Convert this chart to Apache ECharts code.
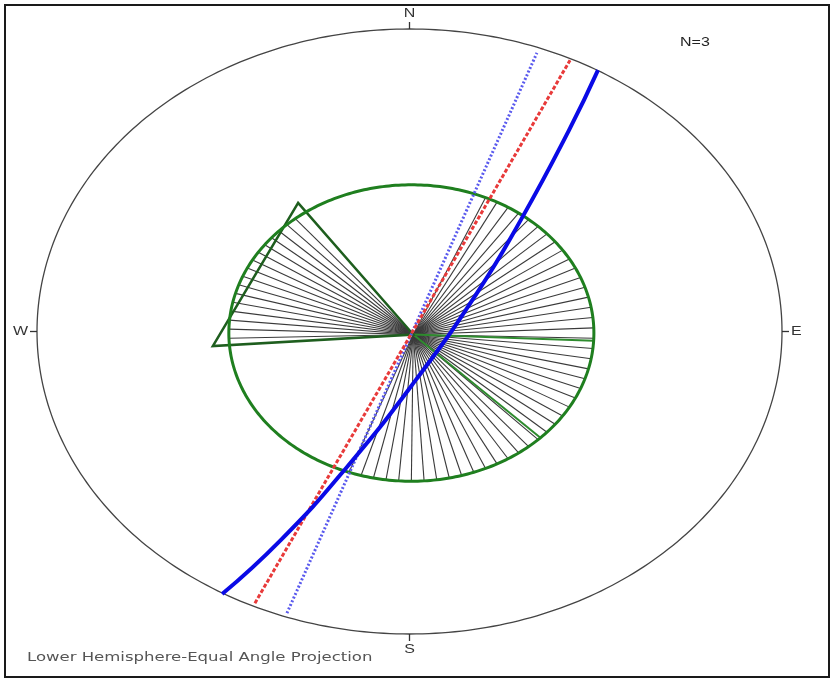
<!DOCTYPE html>
<html><head><meta charset="utf-8">
<script src="https://cdn.jsdelivr.net/npm/echarts@6/dist/echarts.min.js"></script>
<style>html,body{margin:0;padding:0;background:#fff}#c{width:836px;height:682px}</style>
</head><body><div id="c"></div>
<script>
// ---- Data (stereonet unit coordinates: x = east, y = north, primitive circle radius = 1) ----
const cardinalLabels = ['N', 'E', 'S', 'W'];
const cardinalPoints = [[0, 1], [1, 0], [0, -1], [-1, 0]];
const primitiveRadius = 1;
const coneCenter = [0.005, -0.005];
const coneRadius = 0.49;
const fanCenter = [0.01, -0.01];
const fanRightAzimuths = [24, 28, 32, 36, 40, 44, 48, 52, 56, 60, 64, 68, 72, 76, 80, 84, 88, 92, 96, 100, 104, 108, 112, 116, 120, 124, 128, 132, 136, 140, 144, 148, 152, 156, 160, 164, 168, 172, 176, 180, 184, 188, 192, 196, 200];
const fanLeftAzimuths = [268, 271.5, 275, 278.5, 282, 285.5, 289, 292.5, 296, 299.5, 303, 306.5, 310, 313.5, 317, 320.5];
const greenRayAzimuths = [93, 135];
const wedgeVertices = [[-0.299, 0.425], [-0.528, -0.048]];
const greatCircleSolid = [[-0.503, -0.868], [-0.345, -0.689], [-0.170, -0.451], [0.017, -0.160], [0.181, 0.127], [0.299, 0.369], [0.428, 0.665], [0.506, 0.864]];
const greatCircleDashed = [[-0.415, -0.898], [-0.067, -0.160], [0.431, 0.897]];
const greatCircleDotted = [[-0.329, -0.931], [-0.050, -0.160], [0.342, 0.921]];
const countLabel = 'N=3';
const footerLabel = 'Lower Hemisphere-Equal Angle Projection';

// ---- Chart ----
const TEXT_STRETCH = 1.23; // the reference picture is stretched horizontally
const chart = echarts.init(document.getElementById('c'), null, {renderer: 'canvas'});

function circleSeries(center, radius, color, width, z) {
  return {
    type: 'custom', coordinateSystem: 'cartesian2d', clip: false, z: z, silent: true,
    data: [[center[0], center[1], radius]],
    encode: {x: 0, y: 1},
    renderItem: function (params, api) {
      const cx = api.value(0), cy = api.value(1), r = api.value(2);
      const pts = [];
      for (let i = 0; i <= 360; i += 1) {
        const a = i * Math.PI / 180;
        pts.push(api.coord([cx + r * Math.sin(a), cy + r * Math.cos(a)]));
      }
      return {type: 'polyline', shape: {points: pts}, style: {stroke: color, lineWidth: width, fill: null}};
    }
  };
}

function raySeries(azimuths, color, width, z) {
  return {
    type: 'custom', coordinateSystem: 'cartesian2d', clip: false, z: z, silent: true,
    data: azimuths.map(a => [a]),
    encode: {x: 0},
    renderItem: function (params, api) {
      const a = api.value(0) * Math.PI / 180;
      const p0 = api.coord(fanCenter);
      const p1 = api.coord([coneCenter[0] + coneRadius * Math.sin(a), coneCenter[1] + coneRadius * Math.cos(a)]);
      return {type: 'line', shape: {x1: p0[0], y1: p0[1], x2: p1[0], y2: p1[1]}, style: {stroke: color, lineWidth: width}};
    }
  };
}

const option = {
  animation: false,
  backgroundColor: '#ffffff',
  grid: {left: 37, right: 54, top: 29, bottom: 48, containLabel: false},
  xAxis: {type: 'value', min: -1, max: 1, show: false},
  yAxis: {type: 'value', min: -1, max: 1, show: false},
  graphic: [
    {type: 'rect', shape: {x: 5, y: 5, width: 824, height: 672}, style: {fill: null, stroke: '#1a1a1a', lineWidth: 2}, z: 100},
    {type: 'text', x: 680, y: 42, scaleX: TEXT_STRETCH, style: {text: countLabel, font: '13px "Liberation Sans", Arial, sans-serif', fill: '#222', textVerticalAlign: 'middle'}},
    {type: 'text', x: 27, y: 658, scaleX: 1.27, style: {text: footerLabel, font: '13px "DejaVu Sans", sans-serif', fill: '#555', textVerticalAlign: 'middle'}}
  ],
  series: [
    circleSeries([0, 0], primitiveRadius, '#444', 1.3, 2),
    {
      type: 'custom', coordinateSystem: 'cartesian2d', clip: false, z: 3, silent: true,
      data: cardinalPoints.map((p, i) => [p[0], p[1], i]),
      encode: {x: 0, y: 1},
      renderItem: function (params, api) {
        const x = api.value(0), y = api.value(1);
        const p = api.coord([x, y]);
        const dx = x, dy = -y;
        const L = 7;
        const label = cardinalLabels[api.value(2)];
        const tx = p[0] + dx * (L + 2), ty = p[1] + dy * (L + 2);
        return {type: 'group', children: [
          {type: 'line', shape: {x1: p[0], y1: p[1], x2: p[0] + dx * L, y2: p[1] + dy * L}, style: {stroke: '#333', lineWidth: 1.3}},
          {type: 'text', x: tx, y: ty, scaleX: TEXT_STRETCH, style: {
            text: label, font: '13px "Liberation Sans", Arial, sans-serif', fill: '#333',
            textAlign: dx > 0 ? 'left' : (dx < 0 ? 'right' : 'center'),
            textVerticalAlign: dy > 0 ? 'top' : (dy < 0 ? 'bottom' : 'middle')
          }}
        ]};
      }
    },
    raySeries(fanRightAzimuths, '#3a3a3a', 1.1, 4),
    raySeries(fanLeftAzimuths, '#3a3a3a', 1.1, 4),
    raySeries(greenRayAzimuths, '#2e8b2e', 2, 5),
    {
      type: 'custom', coordinateSystem: 'cartesian2d', clip: false, z: 6, silent: true,
      data: [[wedgeVertices[0][0], wedgeVertices[0][1], wedgeVertices[1][0], wedgeVertices[1][1]]],
      encode: {x: 0, y: 1},
      renderItem: function (params, api) {
        const pts = [api.coord(fanCenter), api.coord([api.value(0), api.value(1)]), api.coord([api.value(2), api.value(3)])];
        return {type: 'polygon', shape: {points: pts}, style: {stroke: '#1e5e1e', lineWidth: 2.5, fill: null}};
      }
    },
    circleSeries(coneCenter, coneRadius, '#1f7f1f', 3, 7),
    {
      type: 'line', data: greatCircleDotted, showSymbol: false, z: 8, silent: true,
      lineStyle: {color: '#5a5aee', width: 3, type: [2, 2]}
    },
    {
      type: 'line', data: greatCircleDashed, showSymbol: false, z: 9, silent: true,
      lineStyle: {color: '#e83a3a', width: 3, type: [4, 2]}
    },
    {
      type: 'line', data: greatCircleSolid, showSymbol: false, smooth: 0.5, z: 10, silent: true,
      lineStyle: {color: '#0a0ae6', width: 4}
    }
  ]
};
chart.setOption(option);
</script>
</body></html>
